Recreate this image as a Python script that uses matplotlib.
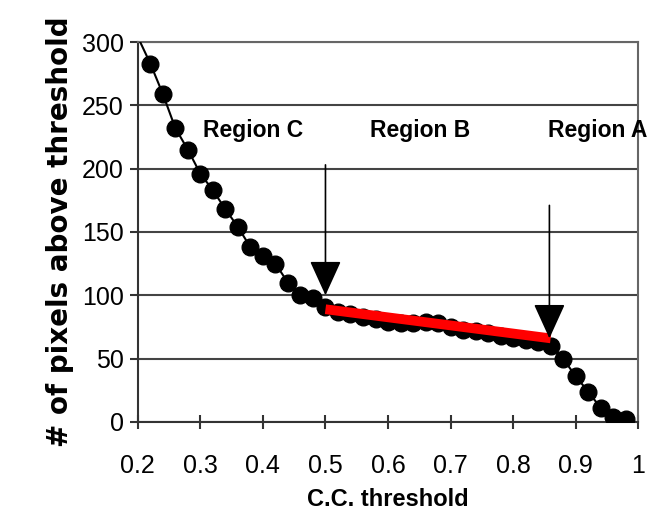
import matplotlib.pyplot as plt
import numpy as np

# C.C. threshold vs number of pixels above it
cc_threshold = [0.20, 0.22, 0.24, 0.26, 0.28, 0.30, 0.32, 0.34, 0.36, 0.38,
                0.40, 0.42, 0.44, 0.46, 0.48, 0.50, 0.52, 0.54, 0.56, 0.58,
                0.60, 0.62, 0.64, 0.66, 0.68, 0.70, 0.72, 0.74, 0.76, 0.78,
                0.80, 0.82, 0.84, 0.86, 0.88, 0.90, 0.92, 0.94, 0.96, 0.98]
pixel_count = [304, 283, 259, 232, 215, 196, 183, 168, 154, 138,
               131, 125, 110, 100, 98, 91, 87, 85, 83, 81,
               79, 78, 78, 79, 78, 75, 73, 72, 70, 68,
               66, 65, 63, 60, 50, 36, 24, 11, 4, 2]

# linear fit over region B
fit_x = [0.50, 0.86]
fit_y = [89, 66]

region_names = ["Region C", "Region B", "Region A"]
region_x = [0.385, 0.652, 0.935]
region_y = 230

arrow_x = [0.50, 0.858]
arrow_top = [203, 171]
arrow_tip = [100, 66]

font = ['Liberation Sans', 'DejaVu Sans']

fig = plt.figure(figsize=(6.69, 5.19), dpi=100)
ax = fig.add_axes([0.206, 0.187, 0.748, 0.732])

ax.plot(cc_threshold, pixel_count, color='black', lw=1.5, marker='o',
        markersize=12, markevery=slice(1, None), zorder=3)
ax.plot(fit_x, fit_y, color='#ff0000', lw=7, solid_capstyle='butt', zorder=4)

for name, x in zip(region_names, region_x):
    ax.text(x, region_y, name, ha='center', va='center', fontsize=16.5,
            fontweight='bold', family=font, zorder=5)

for x, y0, y1 in zip(arrow_x, arrow_top, arrow_tip):
    ax.annotate('', xy=(x, y1), xytext=(x, y0),
                arrowprops=dict(arrowstyle='-|>,head_length=1.1,head_width=0.5',
                                color='black', lw=1.2, mutation_scale=20,
                                shrinkA=0, shrinkB=0), zorder=5)

ax.set_xlim(0.2, 1.0)
ax.set_ylim(0, 300)
ax.set_xticks(np.arange(0.2, 1.01, 0.1))
ax.set_xticklabels(['0.2', '0.3', '0.4', '0.5', '0.6', '0.7', '0.8', '0.9', '1'])
ax.set_yticks(range(0, 301, 50))
ax.yaxis.grid(True, color='#444444', lw=1.5)
ax.set_axisbelow(True)

for s in ax.spines.values():
    s.set_color('#666666')
    s.set_linewidth(1.5)
ax.spines['left'].set_color('#333333')
ax.spines['bottom'].set_color('#333333')

ax.tick_params(axis='x', direction='inout', length=10, width=1.5, pad=18,
               color='#333333')
ax.tick_params(axis='y', direction='out', length=6, width=1.5, pad=4,
               color='#333333')
for lab in ax.get_xticklabels() + ax.get_yticklabels():
    lab.set_family(font)
    lab.set_fontsize(18)

ax.set_xlabel('C.C. threshold', fontsize=17, fontweight='bold', family=font,
              labelpad=7)
ax.set_ylabel('# of pixels above threshold', fontsize=20, fontweight='bold',
              labelpad=6)

fig.savefig('out.png', dpi=100)
